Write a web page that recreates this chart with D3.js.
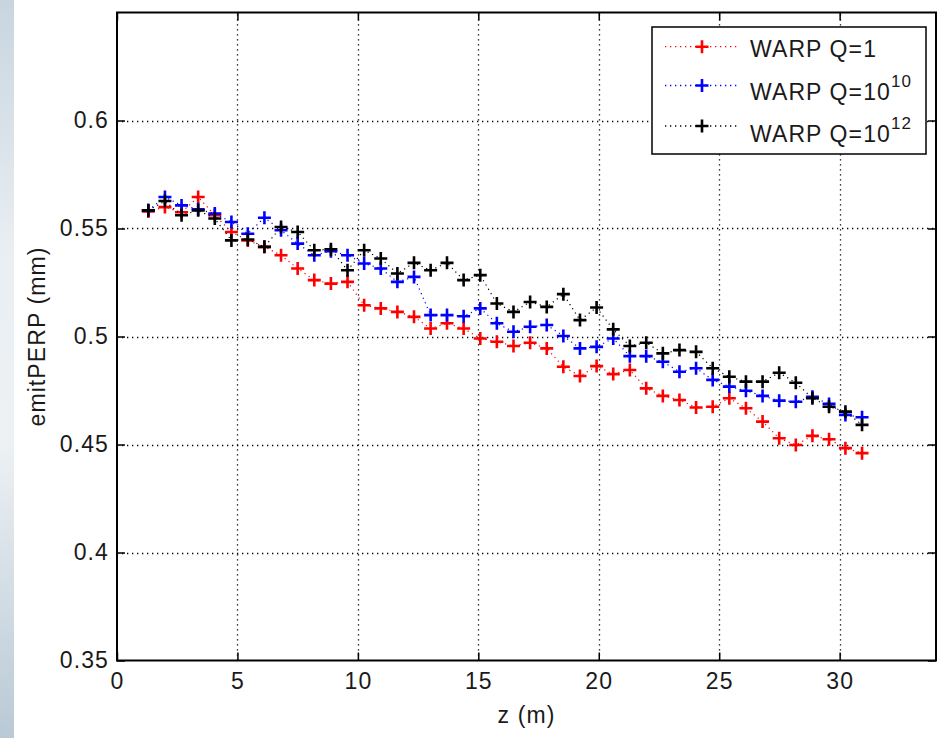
<!DOCTYPE html>
<html>
<head>
<meta charset="utf-8">
<script src="https://cdn.jsdelivr.net/npm/d3@7"></script>
<style>
  body { margin: 0; background: #fff; }
  svg { display: block; }
  text { font-family: "Liberation Sans", Arial, Helvetica, sans-serif; fill: #1a1a1a; }
</style>
</head>
<body>
<svg id="chart" width="948" height="738"></svg>
<script>
// Beam position along the lattice (m)
const zPos = [1.30, 1.99, 2.68, 3.37, 4.06, 4.75, 5.43, 6.12, 6.81, 7.50, 8.19, 8.88,
  9.57, 10.26, 10.95, 11.64, 12.33, 13.02, 13.70, 14.39, 15.08, 15.77, 16.46, 17.15,
  17.84, 18.53, 19.22, 19.91, 20.60, 21.29, 21.97, 22.66, 23.35, 24.04, 24.73, 25.42,
  26.11, 26.80, 27.49, 28.18, 28.87, 29.56, 30.24, 30.93];

// Transverse emittance (mm) for each run
const emitQ1 = [0.5579, 0.5599, 0.5575, 0.5646, 0.5561, 0.5484, 0.5445, 0.5415, 0.5376,
  0.5315, 0.5261, 0.5245, 0.5253, 0.5145, 0.5130, 0.5114, 0.5091, 0.5037, 0.5061, 0.5037,
  0.4991, 0.4976, 0.4956, 0.4971, 0.4945, 0.4860, 0.4817, 0.4863, 0.4826, 0.4845, 0.4760,
  0.4725, 0.4706, 0.4671, 0.4675, 0.4714, 0.4668, 0.4606, 0.4529, 0.4498, 0.4540, 0.4524,
  0.4483, 0.4460];
const emitQ1e10 = [0.5584, 0.5646, 0.5607, 0.5589, 0.5569, 0.5530, 0.5476, 0.5550, 0.5492,
  0.5430, 0.5376, 0.5395, 0.5376, 0.5338, 0.5315, 0.5253, 0.5276, 0.5099, 0.5099, 0.5094,
  0.5130, 0.5061, 0.5022, 0.5045, 0.5053, 0.5002, 0.4945, 0.4952, 0.4991, 0.4909, 0.4909,
  0.4883, 0.4837, 0.4853, 0.4799, 0.4768, 0.4749, 0.4725, 0.4703, 0.4698, 0.4721, 0.4688,
  0.4637, 0.4626];
const emitQ1e12 = [0.5584, 0.5627, 0.5561, 0.5584, 0.5546, 0.5445, 0.5449, 0.5415, 0.5507,
  0.5484, 0.5399, 0.5404, 0.5307, 0.5399, 0.5361, 0.5292, 0.5341, 0.5307, 0.5341, 0.5261,
  0.5284, 0.5153, 0.5114, 0.5160, 0.5137, 0.5196, 0.5076, 0.5134, 0.5033, 0.4956, 0.4971,
  0.4922, 0.4937, 0.4929, 0.4853, 0.4814, 0.4791, 0.4791, 0.4832, 0.4786, 0.4714, 0.4675,
  0.4652, 0.4591];

const xTicks = [0, 5, 10, 15, 20, 25, 30];
const yTicks = [0.35, 0.4, 0.45, 0.5, 0.55, 0.6];
const legendBase = ["WARP Q=1", "WARP Q=10", "WARP Q=10"];
const legendExp = ["", "10", "12"];
const seriesColors = ["#ff0000", "#0000ff", "#000000"];
const xLabel = "z (m)";
const yLabel = "emitPERP (mm)";

const series = [emitQ1, emitQ1e10, emitQ1e12].map((vals, i) => ({
  values: vals.map((v, j) => ({ z: zPos[j], v })),
  color: seriesColors[i],
  base: legendBase[i],
  exp: legendExp[i]
}));

const svg = d3.select("#chart");
const W = 948, H = 738;
const plotL = 117, plotR = 936, plotT = 12.5, plotB = 660.5;

// Window-edge strip on the far left
const defs = svg.append("defs");
const grad = defs.append("linearGradient").attr("id", "edgeGrad")
  .attr("x1", 0).attr("y1", 0).attr("x2", 0).attr("y2", 1);
[[0, "#c8d5df"], [0.35, "#eaeff3"], [0.6, "#edf1f4"], [1, "#b9c9d5"]].forEach(([o, c]) =>
  grad.append("stop").attr("offset", o).attr("stop-color", c));
svg.append("rect").attr("x", 0).attr("y", 0).attr("width", 14).attr("height", H)
  .attr("fill", "url(#edgeGrad)");

const x = d3.scaleLinear().domain([0, 34]).range([plotL, plotR]);
const y = d3.scaleLinear().domain([0.35, 0.65]).range([plotB, plotT]);

const fontSize = 23;
const spacing = "1.1px";

// Dotted grid
const grid = svg.append("g").attr("stroke", "#000").attr("stroke-width", 1.3)
  .attr("stroke-dasharray", "1.3,3.7");
grid.selectAll("line.gx").data(xTicks.filter(t => t > 0)).join("line")
  .attr("x1", d => Math.round(x(d)) + 0.5).attr("x2", d => Math.round(x(d)) + 0.5)
  .attr("y1", plotB).attr("y2", plotT);
grid.selectAll("line.gy").data(yTicks.filter(t => t > 0.35)).join("line")
  .attr("y1", d => Math.round(y(d)) + 0.5).attr("y2", d => Math.round(y(d)) + 0.5)
  .attr("x1", plotL).attr("x2", plotR);

// Axes with inward ticks on all four sides
const tickLen = 8;
const fmtY = d => String(+d.toFixed(2));
const gx = svg.append("g").attr("transform", `translate(0,${plotB})`)
  .call(d3.axisBottom(x).tickValues(xTicks).tickSizeInner(-tickLen).tickSizeOuter(0).tickPadding(12));
const gy = svg.append("g").attr("transform", `translate(${plotL},0)`)
  .call(d3.axisLeft(y).tickValues(yTicks).tickFormat(fmtY).tickSizeInner(-tickLen).tickSizeOuter(0).tickPadding(8));
const gt = svg.append("g").attr("transform", `translate(0,${plotT})`)
  .call(d3.axisTop(x).tickValues(xTicks).tickSizeInner(-tickLen).tickSizeOuter(0).tickFormat(""));
const gr = svg.append("g").attr("transform", `translate(${plotR},0)`)
  .call(d3.axisRight(y).tickValues(yTicks).tickSizeInner(-tickLen).tickSizeOuter(0).tickFormat(""));
[gx, gy, gt, gr].forEach(g => {
  g.select(".domain").remove();
  g.selectAll(".tick line").attr("stroke", "#000").attr("stroke-width", 1.5);
  g.selectAll(".tick text").attr("font-size", fontSize).attr("fill", "#1a1a1a")
    .attr("font-family", "Liberation Sans, Arial, sans-serif").style("letter-spacing", spacing);
});

// Axes box
svg.append("rect").attr("x", plotL).attr("y", plotT)
  .attr("width", plotR - plotL).attr("height", plotB - plotT)
  .attr("fill", "none").attr("stroke", "#000").attr("stroke-width", 2);

// Axis titles
svg.append("text").attr("x", (plotL + plotR) / 2).attr("y", 723)
  .attr("text-anchor", "middle").attr("font-size", fontSize).style("letter-spacing", spacing)
  .text(xLabel);
svg.append("text").attr("transform", `translate(45,${(plotT + plotB) / 2}) rotate(-90)`)
  .attr("text-anchor", "middle").attr("font-size", fontSize).style("letter-spacing", spacing)
  .text(yLabel);

// Plus-shaped marker path
const plus = (s) => `M${-s},0H${s}M0,${-s}V${s}`;
const mSize = 6.5;
const mStroke = 2.6;

const line = d3.line().x(d => x(d.z)).y(d => y(d.v));
const plot = svg.append("g");
series.forEach(s => {
  const g = plot.append("g");
  g.append("path").datum(s.values).attr("d", line)
    .attr("fill", "none").attr("stroke", s.color).attr("stroke-width", 1.2)
    .attr("stroke-dasharray", "1.2,3.8");
  g.selectAll("path.m").data(s.values).join("path").attr("class", "m")
    .attr("transform", d => `translate(${x(d.z)},${y(d.v)})`)
    .attr("d", plus(mSize)).attr("stroke", s.color).attr("stroke-width", mStroke)
    .attr("fill", "none");
});

// Legend
const lg = svg.append("g");
lg.append("rect").attr("x", 652).attr("y", 27).attr("width", 274).attr("height", 127)
  .attr("fill", "#fff").attr("stroke", "#000").attr("stroke-width", 1.5);
const rowY = [46.7, 85.5, 126];
const textY = [57, 100, 142];
series.forEach((s, i) => {
  lg.append("line").attr("x1", 665).attr("x2", 739).attr("y1", rowY[i]).attr("y2", rowY[i])
    .attr("stroke", s.color).attr("stroke-width", 1.3).attr("stroke-dasharray", "1.3,3.7");
  lg.append("path").attr("transform", `translate(702,${rowY[i]})`).attr("d", plus(mSize))
    .attr("stroke", s.color).attr("stroke-width", mStroke).attr("fill", "none");
  const t = lg.append("text").attr("x", 750).attr("y", textY[i])
    .attr("font-size", fontSize).style("letter-spacing", spacing);
  t.append("tspan").text(s.base);
  if (s.exp) {
    t.append("tspan").attr("dy", -13).attr("font-size", 17).text(s.exp);
  }
});
</script>
</body>
</html>
